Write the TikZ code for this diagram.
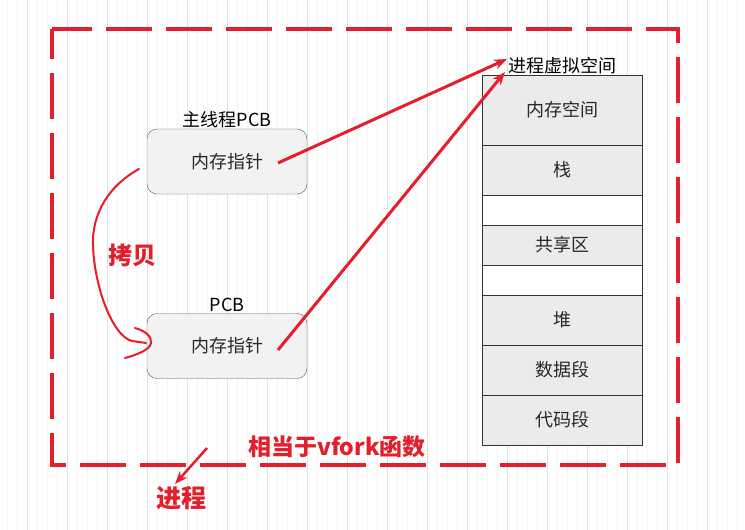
\documentclass[tikz,border=0pt]{standalone}
\usepackage{fontspec}
\setmainfont{Noto Sans CJK SC}
\usetikzlibrary{arrows.meta,positioning}
\definecolor{markred}{RGB}{228,30,42}
\definecolor{majorgrid}{RGB}{226,226,226}
\definecolor{minorgrid}{RGB}{244,244,244}
\definecolor{boxfill}{RGB}{242,242,242}
\definecolor{segfill}{RGB}{235,235,235}
\definecolor{inktext}{RGB}{40,40,40}

\begin{document}
\begin{tikzpicture}[x=1pt,y=-1pt,>={Stealth[length=13pt,width=10pt]},
  pcb/.style={draw=black!65,fill=boxfill,rounded corners=10pt,minimum width=160pt,
    minimum height=65pt,text=inktext,font=\fontsize{18}{21}\selectfont},
  seg/.style={draw=black!80,fill=segfill,minimum width=160pt,outer sep=0pt,
    inner sep=0pt,text=inktext,font=\fontsize{18}{21}\selectfont},
  caption/.style={inner sep=1pt,font=\fontsize{18}{21}\selectfont},
  remark/.style={text=markred,inner sep=0pt,font=\fontsize{24}{26}\selectfont\bfseries}]

\useasboundingbox (0,0) rectangle (745,530);
\fill[white] (0,0) rectangle (745,530);
\draw[minorgrid,line width=0.6pt,shift={(7,4)}] (-10,-10) grid[step=10] (745,535);
\draw[majorgrid,line width=0.8pt,shift={(27,34)}] (-40,-40) grid[step=40] (740,520);

\draw[markred,line width=4pt,dash pattern=on 46pt off 14pt,dash phase=16pt]
  (52,29) rectangle (678,465);

\node[pcb]  (mainpcb) at (227,161.5) {内存指针};
\node[caption] (mainlbl) [above=0pt of mainpcb] {主线程PCB};
\node[pcb]  (pcb)     at (227,346)   {内存指针};
\node[caption] (pcblbl)  [above=0pt of pcb]     {PCB};

\node[seg,minimum height=70pt]           (mem)    at (562.5,110) {内存空间};
\node[seg,minimum height=50pt]           (stack)  [below=0pt of mem]    {栈};
\node[seg,minimum height=30pt,fill=white](gapA)   [below=0pt of stack]  {};
\node[seg,minimum height=40pt]           (shared) [below=0pt of gapA]   {共享区};
\node[seg,minimum height=30pt,fill=white](gapB)   [below=0pt of shared] {};
\node[seg,minimum height=50pt]           (heap)   [below=0pt of gapB]   {堆};
\node[seg,minimum height=50pt]           (data)   [below=0pt of heap]   {数据段};
\node[seg,minimum height=50pt]           (code)   [below=0pt of data]   {代码段};
\node[caption] (vspace) [above=0pt of mem] {进程虚拟空间};

\coordinate (ptrA) at (278,163);
\coordinate (ptrB) at (278,350);
\coordinate (tipA) at (507,59);
\coordinate (tipB) at (505,72);
\draw[markred,line width=3pt,->] (ptrA) -- (tipA);
\draw[markred,line width=3pt,->] (ptrB) -- (tipB);

\coordinate (cpA) at (139,169);
\coordinate (cpB) at (146,343);
\draw[markred,line width=2pt,line cap=round]
  (cpA) .. controls (110,185) and (92,212) .. (93,245)
        .. controls (94,285) and (112,336) .. (132,341) -- (cpB);
\draw[markred,line width=2pt,line cap=round]
  (135,328) .. controls (146,331) and (152,337) .. (151,343)
            .. controls (150,350) and (136,355) .. (125,358);
\node[remark] (copy) at (132,255) {拷贝};

\node[remark,font=\fontsize{23}{26}\selectfont\bfseries] (vfork) at (337,447) {相当于vfork函数};
\node[remark,font=\fontsize{25}{27}\selectfont\bfseries] (proc) at (181,498) {进程};
\coordinate (procfrom) at (207,448);
\coordinate (procto) at (175,484);
\draw[markred,line width=2.5pt,->] (procfrom) -- (procto);

\end{tikzpicture}
\end{document}
